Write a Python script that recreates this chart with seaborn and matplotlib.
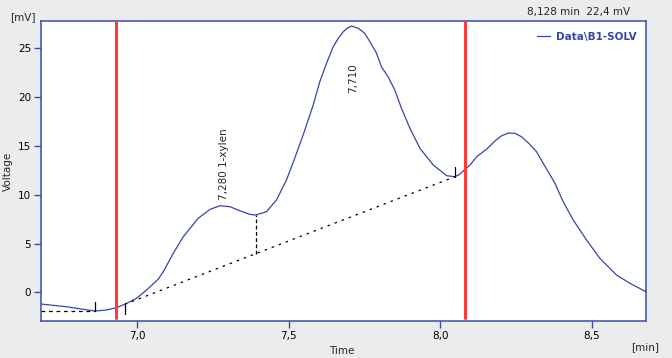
import matplotlib
matplotlib.use("Agg")
import matplotlib.pyplot as plt
import numpy as np
import pandas as pd
import seaborn as sns

# chromatogram trace
time_min = [6.684, 6.768, 6.823, 6.862, 6.900, 6.932, 6.960, 6.999, 7.032, 7.070,
            7.087, 7.120, 7.153, 7.202, 7.241, 7.274, 7.307, 7.339, 7.372, 7.392,
            7.427, 7.460, 7.493, 7.516, 7.548, 7.581, 7.603, 7.625, 7.647, 7.664,
            7.680, 7.695, 7.708, 7.730, 7.751, 7.768, 7.790, 7.806, 7.828, 7.850,
            7.872, 7.900, 7.933, 7.977, 8.021, 8.048, 8.064, 8.081, 8.098, 8.120,
            8.153, 8.180, 8.202, 8.224, 8.246, 8.268, 8.295, 8.317, 8.339, 8.378,
            8.405, 8.438, 8.482, 8.526, 8.581, 8.625, 8.678]
voltage_mv = [-1.20, -1.48, -1.74, -1.92, -1.81, -1.58, -1.23, -0.61, 0.24, 1.33,
              2.11, 4.00, 5.70, 7.58, 8.50, 8.87, 8.77, 8.36, 7.99, 7.92,
              8.26, 9.46, 11.51, 13.38, 16.12, 19.19, 21.58, 23.46, 25.16, 26.02,
              26.70, 27.10, 27.28, 27.05, 26.54, 25.68, 24.49, 23.11, 22.09, 20.73,
              18.85, 16.80, 14.75, 13.04, 11.95, 11.84, 12.09, 12.60, 13.04, 13.89,
              14.68, 15.50, 16.04, 16.32, 16.29, 15.94, 15.16, 14.41, 13.22, 11.17,
              9.28, 7.41, 5.36, 3.48, 1.77, 0.92, 0.06]

# peak annotations
peak_times = [7.287, 7.712]
peak_labels = ["7,280 1-xylen", "7,710"]

# integration baseline
flat_base_time = [6.684, 6.862]
flat_base_level = -1.92
base_time = [6.960, 8.048]
base_volt = [-1.23, 11.84]
drop_time = 7.392
mark_times = [6.862, 6.960, 8.048]
mark_dirs = [1, -1, 1]

# red cursor lines
cursor_times = [6.932, 8.080]

x_ticks = [7.0, 7.5, 8.0, 8.5]
x_ticklabels = ["7,0", "7,5", "8,0", "8,5"]
y_ticks = [0, 5, 10, 15, 20, 25]

blue = "#3347a6"
frame = "#3a4ea8"

sns.set_style("white")
plt.rcParams["font.family"] = ["DejaVu Sans"]

fig = plt.figure(figsize=(6.72, 3.58), dpi=100, facecolor="#ececec")
ax = fig.add_axes([41 / 672, 37 / 358, 605 / 672, 300 / 358])
ax.set_facecolor("white")

df = pd.DataFrame({"Time": time_min, "Voltage": voltage_mv})
sns.lineplot(data=df, x="Time", y="Voltage", ax=ax, color=blue, lw=0.9,
             estimator=None, label="Data\\B1-SOLV")

# red cursors
for t in cursor_times:
    ax.axvline(t, ymin=0.01, ymax=1, color="#ff3838", lw=2.2, zorder=4)

# baselines
ax.plot(flat_base_time, [flat_base_level] * 2, color="black", lw=0.9,
        dashes=(3, 3))
ax.plot(base_time, base_volt, color="black", lw=0.9, dashes=(2, 4))
drop_base = np.interp(drop_time, base_time, base_volt)
drop_top = np.interp(drop_time, time_min, voltage_mv)
ax.plot([drop_time, drop_time], [drop_base, drop_top], color="black", lw=0.9,
        dashes=(3, 2))
for t, d in zip(mark_times, mark_dirs):
    v = np.interp(t, time_min, voltage_mv)
    ax.plot([t, t], [v, v + d * 0.95], color="black", lw=0.9)

# peak labels
ax.text(peak_times[0], np.interp(peak_times[0], time_min, voltage_mv) + 0.6,
        peak_labels[0], rotation=90, ha="center", va="bottom", fontsize=7.5)
ax.text(peak_times[1], 20.4, peak_labels[1], rotation=90, ha="center",
        va="bottom", fontsize=7.5)

ax.set_xlim(6.684, 8.678)
ax.set_ylim(-2.94, 27.8)
ax.set_xticks(x_ticks)
ax.set_xticklabels(x_ticklabels)
ax.set_yticks(y_ticks)
ax.tick_params(bottom=True, left=True, direction="out", length=5, width=1,
               color=frame, labelsize=7.5, labelcolor="black", pad=2)
for s in ax.spines.values():
    s.set_visible(True)
    s.set_color(frame)
    s.set_linewidth(1.1)

ax.set_xlabel("Time", fontsize=7.5)
ax.xaxis.set_label_coords(0.4975, -0.083)
ax.set_ylabel("Voltage", fontsize=7.5)
ax.yaxis.set_label_coords(-0.046, 0.5)

fig.text(23 / 672, 1 - 17 / 358, "[mV]", ha="center", va="center", fontsize=7.5)
fig.text(645 / 672, 1 - 347 / 358, "[min]", ha="center", va="center",
         fontsize=7.5)
fig.text(630 / 672, 1 - 12 / 358, "8,128 min  22,4 mV", ha="right",
         va="center", fontsize=7.5)

leg = ax.legend(loc="upper right", bbox_to_anchor=(637 / 672, 1 - 32 / 358),
                bbox_transform=fig.transFigure, frameon=False,
                handlelength=1.3, handletextpad=0.6, borderpad=0,
                borderaxespad=0, prop={"weight": "bold", "size": 7.5})
for txt in leg.get_texts():
    txt.set_color(blue)

fig.savefig("out.png", dpi=100, facecolor=fig.get_facecolor())
